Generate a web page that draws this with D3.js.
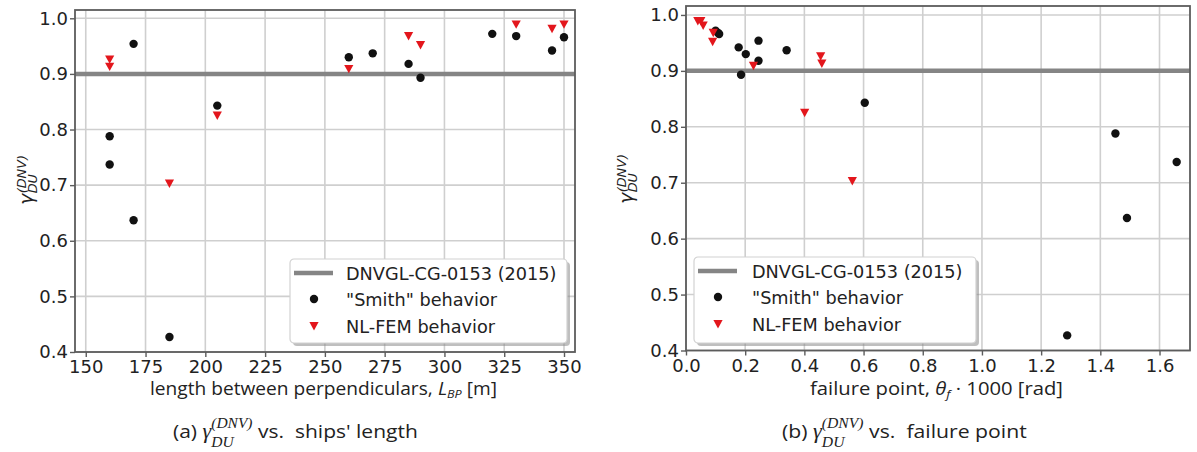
<!DOCTYPE html>
<html><head><meta charset="utf-8">
<script src="https://cdn.jsdelivr.net/npm/d3@7"></script>
<style>body{margin:0;background:#fff} svg{display:block}</style>
</head><body>
<svg id="chart" width="1197" height="452"></svg>
<script>
// ---------- data ----------
const lbpTicks   = [150,175,200,225,250,275,300,325,350];
const thetaTicks = [0.0,0.2,0.4,0.6,0.8,1.0,1.2,1.4,1.6];
const gammaTicks = [0.4,0.5,0.6,0.7,0.8,0.9,1.0];
const refGamma = 0.9;                       // DNVGL-CG-0153 (2015)

// "Smith" behavior
const smithLbp   = [160,160,170,170,185,205,260,270,285,290,320,330,345,350];
const smithTheta = [1.451,1.658,0.245,1.490,1.288,0.604,0.202,0.340,0.245,0.186,0.100,0.108,0.178,0.112];
const smithGamma = [0.788,0.737,0.954,0.637,0.427,0.843,0.930,0.937,0.918,0.893,0.972,0.968,0.942,0.966];

// NL-FEM behavior
const femLbp   = [160,160,185,205,260,285,290,330,345,350];
const femTheta = [0.455,0.459,0.562,0.401,0.228,0.092,0.090,0.040,0.058,0.050];
const femGamma = [0.926,0.913,0.703,0.825,0.909,0.968,0.952,0.989,0.981,0.989];

const legendLabels = ["DNVGL-CG-0153 (2015)", "\"Smith\" behavior", "NL-FEM behavior"];

// ---------- styles ----------
const RED = "#e3161c", BLACK = "#111", REFC = "#858585";
const GRID = "#cfcfcf", SPINE = "#5c5c5c", TXT = "#222";
const TICKFONT = "DejaVu Sans";
const svg = d3.select("#chart");
const triPath = "M-4.6,-4 L4.6,-4 L0,4.4 Z";

function drawPanel(o){
  const g = svg.append("g");
  const x = d3.scaleLinear().domain(o.xDomain).range(o.xRange);
  const y = d3.scaleLinear().domain(o.yDomain).range(o.yRange);
  const [x0,x1] = o.xRange, [y0,y1] = o.yRange;

  // grid
  g.append("g").selectAll("line").data(o.xTicks).join("line")
    .attr("x1",d=>x(d)).attr("x2",d=>x(d)).attr("y1",y0).attr("y2",y1)
    .attr("stroke",GRID).attr("stroke-width",1.6);
  g.append("g").selectAll("line").data(gammaTicks).join("line")
    .attr("x1",x0).attr("x2",x1).attr("y1",d=>y(d)).attr("y2",d=>y(d))
    .attr("stroke",GRID).attr("stroke-width",1.6);

  // reference line
  g.append("line").attr("x1",x0).attr("x2",x1)
    .attr("y1",y(refGamma)).attr("y2",y(refGamma))
    .attr("stroke",REFC).attr("stroke-width",4.5);

  // axes
  const ax = g.append("g").attr("transform",`translate(0,${y0})`)
    .call(d3.axisBottom(x).tickValues(o.xTicks).tickFormat(o.xFmt).tickSize(5).tickPadding(3.5));
  const ay = g.append("g").attr("transform",`translate(${x0},0)`)
    .call(d3.axisLeft(y).tickValues(gammaTicks).tickFormat(d3.format(".1f")).tickSize(5).tickPadding(2));
  [ax,ay].forEach(a=>{
    a.select(".domain").remove();
    a.selectAll(".tick line").attr("stroke",SPINE).attr("stroke-width",1.4);
    a.selectAll(".tick text").attr("fill",TXT).style("font-family",TICKFONT).style("font-size","18px");
  });

  // spines
  g.append("rect").attr("x",x0).attr("y",y1).attr("width",x1-x0).attr("height",y0-y1)
    .attr("fill","none").attr("stroke",SPINE).attr("stroke-width",1.8);

  // points
  g.append("g").selectAll("circle").data(o.smithX.map((v,i)=>[v,smithGamma[i]])).join("circle")
    .attr("cx",d=>x(d[0])).attr("cy",d=>y(d[1])).attr("r",4.2).attr("fill",BLACK);
  g.append("g").selectAll("path").data(o.femX.map((v,i)=>[v,femGamma[i]])).join("path")
    .attr("d",triPath).attr("transform",d=>`translate(${x(d[0])},${y(d[1])})`).attr("fill",RED);

  // legend
  const L = o.legend;
  const lg = g.append("g").attr("transform",`translate(${L.x},${L.y})`);
  lg.append("rect").attr("x",3).attr("y",3).attr("width",L.w).attr("height",L.h).attr("rx",4)
    .attr("fill","#8a8a8a").attr("opacity",0.55);
  lg.append("rect").attr("width",L.w).attr("height",L.h).attr("rx",4)
    .attr("fill","#fff").attr("stroke","#d2d2d2").attr("stroke-width",1.2);
  const rows = [14, 40, 67];
  lg.append("line").attr("x1",4).attr("x2",43).attr("y1",rows[0]).attr("y2",rows[0])
    .attr("stroke",REFC).attr("stroke-width",4.5);
  lg.append("circle").attr("cx",24).attr("cy",rows[1]).attr("r",4.2).attr("fill",BLACK);
  lg.append("path").attr("d",triPath).attr("transform",`translate(24,${rows[2]})`).attr("fill",RED);
  lg.selectAll("text").data(legendLabels).join("text")
    .attr("x",L.tx).attr("y",(d,i)=>rows[i]+6.5).text(d=>d)
    .attr("fill",TXT).style("font-family",TICKFONT).style("font-size","17.7px");

  // y label: gamma_DU^(DNV), rotated
  const yl = g.append("g").attr("transform",`translate(${o.yLab[0]},${o.yLab[1]}) rotate(-90)`);
  const gam = yl.append("text").text("γ").attr("x",0).attr("y",0)
    .style("font-family",TICKFONT).style("font-style","italic").style("font-size","19px").attr("fill",TXT);
  const gw = gam.node().getComputedTextLength();
  yl.append("text").text("(DNV)").attr("x",gw+0.5).attr("y",-7.5)
    .style("font-family",TICKFONT).style("font-style","italic").style("font-size","12.8px").attr("fill",TXT);
  yl.append("text").text("DU").attr("x",gw+0.5).attr("y",4)
    .style("font-family",TICKFONT).style("font-style","italic").style("font-size","12.8px").attr("fill",TXT);
}

// sequence of text pieces, scaled horizontally to a target width
function buildPieces(list, size){
  const g = svg.append("g");
  let cx = 0, prevStart = 0;
  list.forEach(p=>{
    const t = g.append("text").text(p.t).attr("y",p.dy||0)
      .style("font-family",p.f||"Open Sans").style("font-size",(p.s||size)+"px")
      .style("font-style",p.i?"italic":"normal").attr("fill",TXT)
      .attr("xml:space","preserve").style("white-space","pre");
    const start = p.stack ? prevStart : cx;
    t.attr("x",start);
    const w = t.node().getComputedTextLength();
    prevStart = start;
    cx = Math.max(cx, start + w);
  });
  return {g, w: cx};
}
function placeLine(list, x0, x1, base, size){
  const r = buildPieces(list, size);
  r.g.attr("transform",`translate(${x0},${base}) scale(${(x1-x0)/r.w},1)`);
}

// ---------- panels ----------
drawPanel({
  xDomain:[145.5,354.6], xRange:[75,575], yDomain:[0.4,1.0149], yRange:[352,10],
  xTicks: lbpTicks, xFmt: d3.format("d"),
  smithX: smithLbp, femX: femLbp,
  legend:{x:290,y:259,w:277,h:84,tx:56},
  yLab:[33,205]
});
drawPanel({
  xDomain:[0,1.703], xRange:[686,1190], yDomain:[0.4,1.016], yRange:[350.5,6],
  xTicks: thetaTicks, xFmt: d3.format(".1f"),
  smithX: smithTheta, femX: femTheta,
  legend:{x:694,y:257,w:282,h:86,tx:58},
  yLab:[633,204]
});

// axis labels
placeLine([
  {t:"length between perpendiculars, "},
  {t:"L", i:true},
  {t:"BP", i:true, s:11.5, dy:3},
  {t:" [m]"}
], 150, 497, 395, 17.5);
placeLine([
  {t:"failure point, "},
  {t:"θ", i:true},
  {t:"f", i:true, s:11.5, dy:3},
  {t:" · 1000 [rad]"}
], 810, 1063, 395, 17.5);

// captions
const SERIF = "Liberation Serif";
placeLine([
  {t:"(a) "},
  {t:"γ", f:SERIF, i:true, s:20},
  {t:"(DNV)", f:SERIF, i:true, s:14, dy:-10},
  {t:"DU", f:SERIF, i:true, s:14, dy:9, stack:true},
  {t:" vs.  ships' length"}
], 173, 418, 438, 19);
placeLine([
  {t:"(b) "},
  {t:"γ", f:SERIF, i:true, s:20},
  {t:"(DNV)", f:SERIF, i:true, s:14, dy:-10},
  {t:"DU", f:SERIF, i:true, s:14, dy:9, stack:true},
  {t:" vs.  failure point"}
], 782, 1027, 438, 19);
</script>
</body></html>
